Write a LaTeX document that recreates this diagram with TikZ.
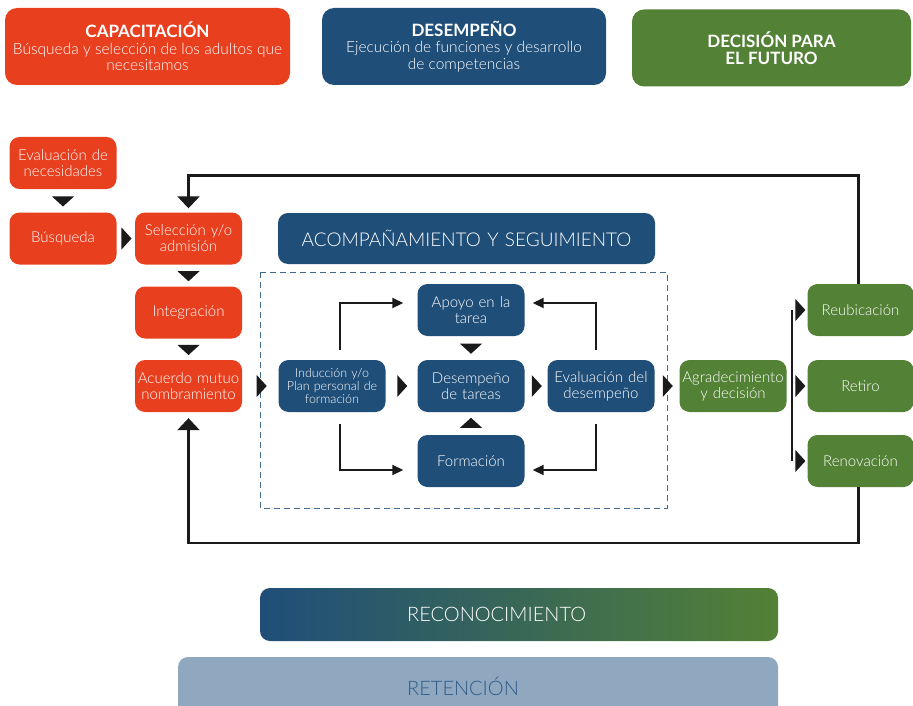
\documentclass[tikz,border=0pt]{standalone}
\usepackage{fontspec}
\setmainfont{Lato}[UprightFont={* Light}, BoldFont={* Bold}]
\usetikzlibrary{arrows.meta,shapes.geometric,positioning}

\definecolor{rojo}{HTML}{E8401F}
\definecolor{azul}{HTML}{1F4E79}
\definecolor{verde}{HTML}{538135}
\definecolor{celeste}{HTML}{8FA8C0}
\definecolor{azultexto}{HTML}{2E5B88}
\definecolor{negro}{HTML}{1A1A1A}

\tikzset{
  caja/.style={rounded corners=10pt, minimum width=107pt, minimum height=52pt,
    text width=106pt, align=center, inner sep=0pt, text=white,
    font=\fontsize{15}{16}\selectfont},
  titulo/.style={rounded corners=12pt, minimum height=77pt, align=center,
    inner sep=0pt, text=white, font=\fontsize{15.5}{16.5}\selectfont},
  punta/.style={isosceles triangle, isosceles triangle stretches, fill=negro,
    inner sep=0pt, minimum width=22pt, minimum height=10pt, sloped,
    allow upside down},
  conector/.style={draw=negro, line width=1.8pt, -{Triangle[width=10pt,length=11pt]}},
  lazo/.style={draw=negro, line width=2.4pt},
  franja/.style={rounded corners=10pt, inner sep=0pt, minimum height=53pt}
}

\begin{document}
\begin{tikzpicture}[x=1pt,y=-1pt]
\clip (0,0) rectangle (913,706);
\fill[white] (0,0) rectangle (913,706);

% encabezados
\node[titulo, fill=rojo, minimum width=285pt] (capac) at (147.5,46.5)
  {\textbf{\fontsize{17}{16.5}\selectfont CAPACITACIÓN}\\Búsqueda y selección de los adultos que\\necesitamos};
\node[titulo, fill=azul, minimum width=284pt] (desemp) at (464,46.5)
  {\textbf{\fontsize{17}{16.5}\selectfont DESEMPEÑO}\\Ejecución de funciones y desarrollo\\de competencias};
\node[titulo, fill=verde, minimum width=279pt, font=\bfseries\fontsize{17}{16.5}\selectfont] (decision) at (771.5,48)
  {DECISIÓN PARA\\EL FUTURO};

% capacitacion
\node[caja, fill=rojo] (necesidades) at (63,163) {Evaluación de\\necesidades};
\node[caja, fill=rojo] (busqueda) at (63,238.5) {Búsqueda};
\node[caja, fill=rojo] (seleccion) at (188.5,238.5) {Selección y/o\\admisión};
\node[caja, fill=rojo] (integracion) at (188.5,312.5) {Integración};
\node[caja, fill=rojo] (acuerdo) at (188.5,386) {Acuerdo mutuo\\nombramiento};

% acompañamiento
\node[caja, fill=azul, minimum width=377pt, minimum height=51pt, text width=370pt,
  font=\fontsize{19}{19}\selectfont] (acomp) at (466.5,238.5) {ACOMPAÑAMIENTO Y SEGUIMIENTO};
\draw[azul!85, line width=1pt, dash pattern=on 6pt off 4pt] (260,272) rectangle (667,508);

\node[caja, fill=azul, font=\fontsize{12.5}{13}\selectfont] (induccion) at (332,386)
  {Inducción y/o\\Plan personal de\\formación};
\node[caja, fill=azul] (apoyo) at (471,310) {Apoyo en la\\tarea};
\node[caja, fill=azul] (desempeno) at (471,386) {Desempeño\\de tareas};
\node[caja, fill=azul] (formacion) at (471,461) {Formación};
\node[caja, fill=azul] (evaluacion) at (601,386) {Evaluación del\\desempeño};

% decision
\node[caja, fill=verde] (agradecimiento) at (733,386) {Agradecimiento\\y decisión};
\node[caja, fill=verde, minimum width=105pt] (reubicacion) at (860.5,310) {Reubicación};
\node[caja, fill=verde, minimum width=105pt] (retiro) at (860.5,386) {Retiro};
\node[caja, fill=verde, minimum width=105pt] (renovacion) at (860.5,461) {Renovación};

% flechas cortas
\path (necesidades) -- node[punta]{} (busqueda);
\path (busqueda) -- node[punta]{} (seleccion);
\path (seleccion) -- node[punta]{} (integracion);
\path (integracion) -- node[punta]{} (acuerdo);
\path (acuerdo) -- node[punta, pos=.52]{} (induccion);
\path (induccion) -- node[punta]{} (desempeno);
\path (apoyo) -- node[punta]{} (desempeno);
\path (formacion) -- node[punta]{} (desempeno);
\path (desempeno) -- node[punta]{} (evaluacion);
\path (evaluacion) -- node[punta]{} (agradecimiento);

% conectores internos
\draw[conector, shorten <=10pt, shorten >=14pt] ([xshift=8pt]induccion.north) |- ([yshift=7pt]apoyo.west);
\draw[conector, shorten <=12pt, shorten >=14pt] ([xshift=8pt]induccion.south) |- ([yshift=-9pt]formacion.west);
\draw[conector, shorten <=10pt, shorten >=8pt] ([xshift=-5pt]evaluacion.north) |- ([yshift=7pt]apoyo.east);
\draw[conector, shorten <=12pt, shorten >=8pt] ([xshift=-5pt]evaluacion.south) |- ([yshift=-9pt]formacion.east);

% rama de decision
\coordinate (rama) at (792,386);
\draw[lazo] (rama |- reubicacion) -- (rama |- renovacion);
\path (rama |- reubicacion) -- node[punta]{} (reubicacion.west);
\path (rama |- retiro) -- node[punta]{} (retiro.west);
\path (rama |- renovacion) -- node[punta]{} (renovacion.west);

% lazos de retorno
\draw[lazo, -{Triangle[width=22pt,length=12pt]}, shorten >=4pt]
  ([xshift=-2pt]reubicacion.north) -- ([xshift=-2pt]reubicacion.north |- 0,175.5) -| (seleccion.north);
\draw[lazo, -{Triangle[width=22pt,length=12pt]}, shorten >=6pt]
  ([xshift=-2pt]renovacion.south) -- ([xshift=-2pt]renovacion.south |- 0,543) -| (acuerdo.south);

% franjas inferiores
\node[franja, left color=azul, right color=verde, minimum width=518pt] (reconoc) at (519,614.5) {};
\node[anchor=west, inner sep=0pt, text=white, font=\fontsize{20}{20}\selectfont]
  (reconoctxt) at (407,614.5) {RECONOCIMIENTO};
\node[franja, fill=celeste, minimum width=600pt, minimum height=60pt] (retencion) at (478,687) {};
\node[anchor=west, inner sep=0pt, text=azultexto, font=\fontsize{20}{20}\selectfont]
  (retenciontxt) at (407,686) {RETENCIÓN};
\end{tikzpicture}
\end{document}
